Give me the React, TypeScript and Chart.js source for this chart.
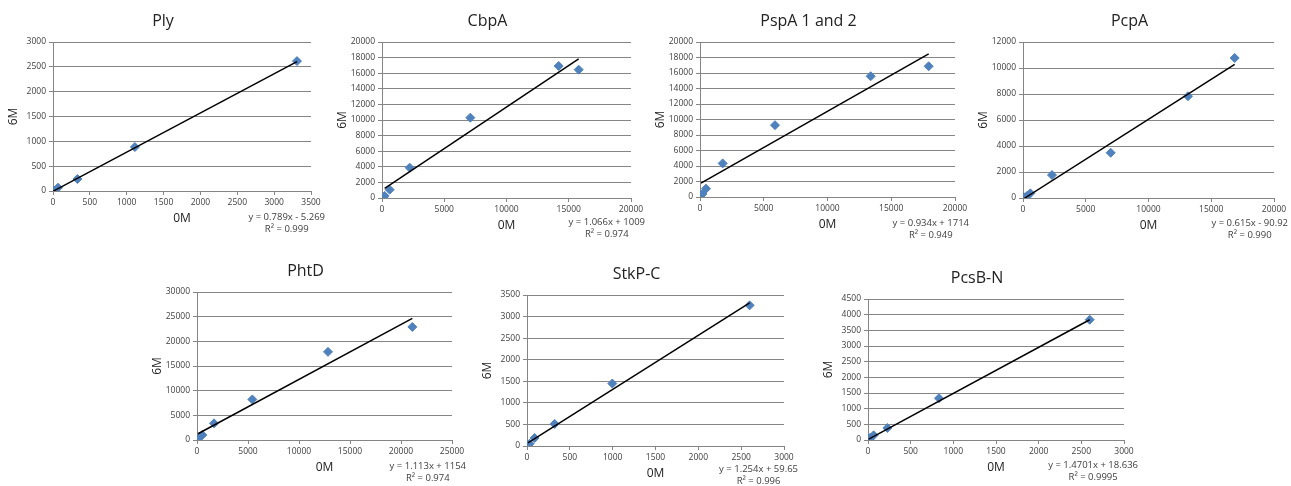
import React, { useEffect, useRef } from "react";
import { Chart, registerables } from "chart.js";

Chart.register(...registerables);

// ---- data ----
const titles = ["Ply", "CbpA", "PspA 1 and 2", "PcpA", "PhtD", "StkP-C", "PcsB-N"];

const plyX = [0, 15, 68, 331, 1111, 3310];
const plyY = [0, 10, 67, 241, 885, 2615];
const cbpaX = [214, 616, 2222, 7095, 14190, 15797];
const cbpaY = [256, 1068, 3889, 10299, 16923, 16453];
const pspaX = [78, 183, 471, 1778, 5882, 13386, 17935];
const pspaY = [258, 386, 1073, 4335, 9270, 15579, 16867];
const pcpaX = [80, 319, 584, 2311, 6985, 13147, 16866];
const pcpaY = [51, 154, 358, 1765, 3480, 7829, 10772];
const phtdX = [98, 262, 523, 1667, 5425, 12843, 21111];
const phtdY = [202, 674, 1011, 3371, 8225, 17865, 22921];
const stkpX = [12, 31, 89, 323, 996, 2599];
const stkpY = [23, 54, 186, 511, 1448, 3260];
const pcsbX = [8, 27, 66, 227, 832, 2598];
const pcsbY = [21, 75, 149, 384, 1333, 3839];

const xSeries = [plyX, cbpaX, pspaX, pcpaX, phtdX, stkpX, pcsbX];
const ySeries = [plyY, cbpaY, pspaY, pcpaY, phtdY, stkpY, pcsbY];

const slopes = [0.789, 1.066, 0.934, 0.615, 1.113, 1.254, 1.4701];
const intercepts = [-5.269, 1009, 1714, -90.92, 1154, 59.65, 18.636];
const eqLabels = [
  "y = 0.789x - 5.269",
  "y = 1.066x + 1009",
  "y = 0.934x + 1714",
  "y = 0.615x - 90.92",
  "y = 1.113x + 1154",
  "y = 1.254x + 59.65",
  "y = 1.4701x + 18.636",
];
const r2Labels = ["R² = 0.999", "R² = 0.974", "R² = 0.949", "R² = 0.990", "R² = 0.974", "R² = 0.996", "R² = 0.9995"];

const xMaxes = [3500, 20000, 20000, 20000, 25000, 3000, 3000];
const xSteps = [500, 5000, 5000, 5000, 5000, 500, 500];
const yMaxes = [3000, 20000, 20000, 12000, 30000, 3500, 4500];
const ySteps = [500, 2000, 2000, 2000, 5000, 500, 500];

// ---- layout (page px): plot area left, right, top, bottom; equation y ----
const plotRects = [
  [53, 311, 42, 191],
  [382, 631, 42, 198],
  [700, 955, 42, 197],
  [1023, 1274, 42, 198],
  [197, 452, 292, 440],
  [527, 784, 295, 446],
  [868, 1124, 299, 440],
];
const eqYs = [217, 222, 223, 223, 466, 469, 465];

const PAD_L = 55;
const PAD_T = 42;
const PAD_R = 20;
const PAD_B = 48;
const FONT = "'Open Sans', 'DejaVu Sans', sans-serif";
const GRID = "#858585";

function Panel({ i }: { i: number }) {
  const ref = useRef<HTMLCanvasElement>(null);
  const [l, r, t, b] = plotRects[i];
  const w = r - l + PAD_L + PAD_R;
  const h = b - t + PAD_T + PAD_B;
  const left = l - PAD_L;
  const top = t - PAD_T;

  useEffect(() => {
    const xs = xSeries[i];
    const ys = ySeries[i];
    const pts = xs.map((x, k) => ({ x, y: ys[k] }));
    const x0 = Math.min(...xs);
    const x1 = Math.max(...xs);
    const trend = [
      { x: x0, y: slopes[i] * x0 + intercepts[i] },
      { x: x1, y: slopes[i] * x1 + intercepts[i] },
    ];
    const textPlugin = {
      id: "panelText",
      afterDraw(chart: any) {
        const ctx = chart.ctx;
        const ca = chart.chartArea;
        const cx = (ca.left + ca.right) / 2;
        ctx.save();
        ctx.fillStyle = "#222222";
        ctx.textAlign = "center";
        ctx.textBaseline = "middle";
        ctx.font = `16px ${FONT}`;
        ctx.fillText(titles[i], cx - 19, ca.top - 21);
        ctx.font = `12px ${FONT}`;
        ctx.fillText("0M", cx, ca.bottom + 28);
        ctx.save();
        ctx.translate(ca.left - 39, (ca.top + ca.bottom) / 2);
        ctx.rotate(-Math.PI / 2);
        ctx.fillText("6M", 0, 0);
        ctx.restore();
        ctx.font = `9.5px ${FONT}`;
        ctx.fillStyle = "#404040";
        const eqW = ctx.measureText(eqLabels[i]).width;
        const eqRight = ca.right + 14;
        const eqC = eqRight - eqW / 2;
        const eqY = eqYs[i] - top;
        ctx.fillText(eqLabels[i], eqC, eqY);
        ctx.fillText(r2Labels[i], eqC, eqY + 12.5);
        ctx.restore();
      },
    };
    const chart = new Chart(ref.current!, {
      type: "scatter",
      data: {
        datasets: [
          {
            type: "line",
            data: trend,
            borderColor: "#000000",
            borderWidth: 1.5,
            pointRadius: 0,
            fill: false,
          } as any,
          {
            data: pts,
            pointStyle: "rectRot",
            pointRadius: 4.5,
            backgroundColor: "#4F81BD",
            borderColor: "#4F81BD",
            borderWidth: 1,
          },
        ],
      },
      options: {
        animation: false,
        responsive: false,
        maintainAspectRatio: false,
        layout: { padding: { left: 0, top: PAD_T, right: PAD_R, bottom: 0 } },
        plugins: { legend: { display: false }, tooltip: { enabled: false }, title: { display: false } },
        scales: {
          x: {
            type: "linear",
            min: 0,
            max: xMaxes[i],
            afterFit: (s: any) => {
              s.height = PAD_B;
            },
            ticks: {
              stepSize: xSteps[i],
              font: { family: FONT, size: 8.5 },
              color: "#404040",
              padding: 2,
              maxRotation: 0,
              callback: (v: any) => String(v),
            },
            grid: { drawOnChartArea: false, drawTicks: true, tickLength: 4, color: GRID },
            border: { display: true, color: GRID, width: 1 },
          },
          y: {
            type: "linear",
            min: 0,
            max: yMaxes[i],
            afterFit: (s: any) => {
              s.width = PAD_L;
            },
            ticks: {
              stepSize: ySteps[i],
              font: { family: FONT, size: 8.5 },
              color: "#404040",
              padding: 3,
              callback: (v: any) => String(v),
            },
            grid: { drawTicks: true, tickLength: 4, color: GRID, lineWidth: 1 },
            border: { display: true, color: GRID, width: 1 },
          },
        },
      },
      plugins: [textPlugin],
    } as any);
    return () => chart.destroy();
  }, [i]);

  return (
    <canvas
      ref={ref}
      width={w}
      height={h}
      style={{ position: "absolute", left, top, width: w, height: h }}
    />
  );
}

export default function App() {
  return (
    <div style={{ position: "absolute", left: 0, top: 0, width: 1291, height: 486, background: "#ffffff", overflow: "hidden" }}>
      {titles.map((_, i) => (
        <Panel key={i} i={i} />
      ))}
    </div>
  );
}
